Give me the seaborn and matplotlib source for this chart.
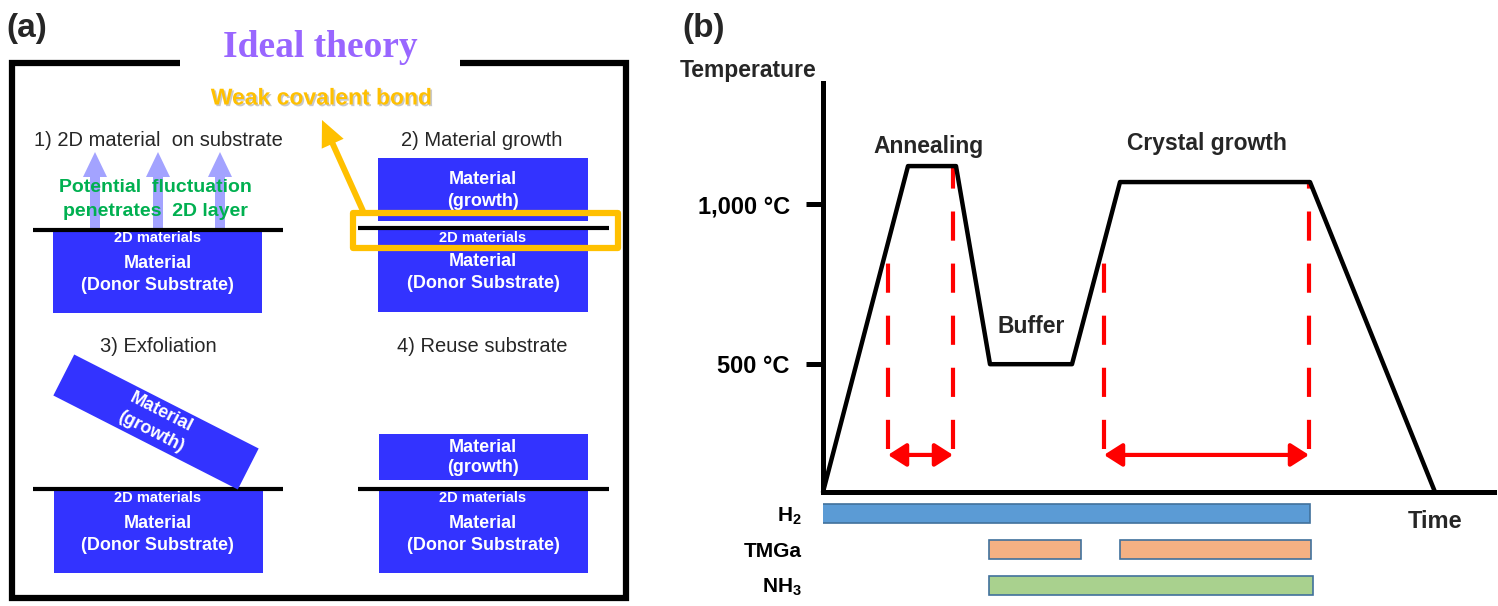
import matplotlib
matplotlib.use("Agg")
import matplotlib.pyplot as plt
import matplotlib.patches as mpatches
import matplotlib.patheffects as pe
import numpy as np
import seaborn as sns

# ---------------- panel (b) data ----------------
# temperature programme (time in arbitrary units, temperature in degC)
phase_time = [0, 8.5, 13.3, 16.7, 24.9, 29.7, 48.7, 61.2]
phase_temp = [100, 1120, 1120, 500, 500, 1070, 1070, 100]
temp_ticks = [500, 1000]
temp_tick_labels = ["500 °C", "1,000 °C"]

# red dashed windows (annealing / crystal growth)
window_time = [6.5, 13.0, 28.1, 48.6]
window_top = [875, 1119, 881, 1072]
window_bottom = 234
span_start = [6.5, 28.1]
span_end = [13.0, 48.6]
span_temp = 216

# phase labels
phase_labels = ["Annealing", "Buffer", "Crystal growth"]
phase_label_time = [10.6, 20.8, 38.4]
phase_label_temp = [1120, 500, 1070]

# gas flow timeline
gas_labels = [r"$\mathbf{H_2}$", "TMGa", r"$\mathbf{NH_3}$"]
gas_row = [0, 1, 1, 2]
gas_start = [-0.5, 16.6, 29.7, 16.6]
gas_end = [48.7, 25.8, 48.8, 49.0]
gas_color = ["#5B9BD5", "#F4B183", "#F4B183", "#A9D18E"]

BLUE = "#3333FF"
YELLOW = "#FFC000"

sns.set_theme(style="white")
plt.rcParams["font.family"] = ["Liberation Sans", "DejaVu Sans"]
plt.rcParams["mathtext.fontset"] = "custom"
plt.rcParams["mathtext.bf"] = "Liberation Sans:bold"
plt.rcParams["mathtext.rm"] = "Liberation Sans"

W, H = 1498, 606
fig = plt.figure(figsize=(W / 100, H / 100), dpi=100)
fig.patch.set_facecolor("white")

# overlay axes in pixel coordinates for the schematic (a) and free labels
ax0 = fig.add_axes([0, 0, 1, 1])
ax0.set_xlim(0, W)
ax0.set_ylim(H, 0)
ax0.axis("off")
ax0.patch.set_alpha(0)

ax0.text(6, 29, "(a)", fontsize=24, fontweight="bold", ha="left", va="center")
ax0.text(682, 29, "(b)", fontsize=24, fontweight="bold", ha="left", va="center")

# frame with a gap for the title
ax0.plot([180, 12, 12, 626, 626, 460], [63, 63, 598, 598, 63, 63],
         color="black", lw=4.5, solid_joinstyle="miter", solid_capstyle="butt")
ax0.text(320, 57, "Ideal theory", family=["Liberation Serif"], fontsize=27,
         fontweight="bold", color="#9966FF", ha="center", va="baseline")
ax0.text(321, 98, "Weak covalent bond", fontsize=16.5, fontweight="bold",
         color=YELLOW, ha="center", va="center",
         path_effects=[pe.SimplePatchShadow(offset=(1.2, -1.2), shadow_rgbFace="#888888", alpha=0.45),
                       pe.Normal()])


def box(x0, y0, x1, y1, z=2):
    ax0.add_patch(mpatches.Rectangle((x0, y0), x1 - x0, y1 - y0, fc=BLUE, ec="none", zorder=z))


def wtext(x, y, s, size=13):
    ax0.text(x, y, s, color="white", fontsize=size, fontweight="bold",
             ha="center", va="center", zorder=6)


def layer(x0, x1, y):
    ax0.plot([x0, x1], [y, y], color="black", lw=3, solid_capstyle="butt", zorder=4)


def substrate(cx, y_line, y_bot, x0, x1):
    box(x0, y_line, x1, y_bot)
    wtext(cx, y_line + 8.5, "2D materials", 10.5)
    wtext(cx, y_line + 34, "Material")
    wtext(cx, y_line + 56, "(Donor Substrate)")


cl, cr = 157.5, 483

# 1) 2D material on substrate
ax0.text(158, 140, "1) 2D material  on substrate", fontsize=14.5, ha="center", va="center")
substrate(cl, 230, 313, 53, 262)
layer(33, 283, 230)
for xa in [95, 158, 220]:
    ax0.add_patch(mpatches.FancyArrow(xa, 229, 0, -77, width=10, head_width=24, head_length=25,
                                      length_includes_head=True, color="#A3A3FF", lw=0, zorder=3))
ax0.text(155, 187, "Potential  fluctuation", fontsize=14, fontweight="bold", color="#00B050",
         ha="center", va="center", zorder=5)
ax0.text(155, 212, "penetrates  2D layer", fontsize=14, fontweight="bold", color="#00B050",
         ha="center", va="center", zorder=5)

# 2) Material growth
ax0.text(482, 140, "2) Material growth", fontsize=14.5, ha="center", va="center")
box(378, 158, 588, 221)
wtext(cr, 180, "Material")
wtext(cr, 201, "(growth)")
box(378, 229, 588, 312)
wtext(cr, 237.5, "2D materials", 10.5)
wtext(cr, 262, "Material")
wtext(cr, 284, "(Donor Substrate)")
layer(358, 609, 228)
ax0.add_patch(mpatches.Rectangle((353, 213), 265, 35, fill=False, ec=YELLOW, lw=4.5,
                                 joinstyle="round", zorder=7))
ax0.add_patch(mpatches.FancyArrow(363, 211, -41, -91, width=6, head_width=24, head_length=26,
                                  length_includes_head=True, color=YELLOW, lw=0, zorder=7))

# 3) Exfoliation
ax0.text(158, 347, "3) Exfoliation", fontsize=14.5, ha="center", va="center")
substrate(cl, 489, 573, 54, 263)
layer(33, 283, 489)
ang = np.deg2rad(27)
u = np.array([np.cos(ang), np.sin(ang)])
v = np.array([-np.sin(ang), np.cos(ang)])
c = np.array([156, 422])
corners = [c - 103.5 * u - 23 * v, c + 103.5 * u - 23 * v, c + 103.5 * u + 23 * v, c - 103.5 * u + 23 * v]
ax0.add_patch(mpatches.Polygon(corners, closed=True, fc=BLUE, ec="none", zorder=5))
for off, s in [(-10.5, "Material"), (11, "(growth)")]:
    p = c + off * v
    ax0.text(p[0], p[1], s, color="white", fontsize=13, fontweight="bold", rotation=-27,
             rotation_mode="anchor", ha="center", va="center", zorder=6)

# 4) Reuse substrate
ax0.text(482, 347, "4) Reuse substrate", fontsize=14.5, ha="center", va="center")
box(379, 434, 588, 480)
wtext(cr, 448, "Material")
wtext(cr, 468, "(growth)")
substrate(cr, 489, 573, 379, 588)
layer(358, 609, 489)

# ---------------- panel (b) ----------------
ax_b = fig.add_axes([823 / W, 1 - 492 / H, (1494 - 823) / W, (492 - 83) / H])
ax_b.patch.set_alpha(0)
ax_b.set_xlim(0, 67.1)
ax_b.set_ylim(100, 1380)

ax_b.vlines(window_time, window_bottom, window_top, colors="red", lw=3,
            linestyles=(0, (7, 5.5)), zorder=2)
for a, b in zip(span_start, span_end):
    ax_b.annotate("", xy=(b, span_temp), xytext=(a, span_temp),
                  arrowprops=dict(arrowstyle="<|-|>,head_length=0.55,head_width=0.35",
                                  color="red", lw=3, shrinkA=0, shrinkB=0, mutation_scale=20))

sns.lineplot(x=phase_time, y=phase_temp, sort=False, estimator=None, color="black",
             linewidth=3.2, ax=ax_b, clip_on=False, zorder=3)

offsets = [20, 38, 39]
for s, t, T, o in zip(phase_labels, phase_label_time, phase_label_temp, offsets):
    ax_b.annotate(s, xy=(t, T), xytext=(0, o * 0.72), textcoords="offset points",
                  fontsize=16.5, fontweight="bold", ha="center", va="center")

sns.despine(ax=ax_b)
for side in ["left", "bottom"]:
    ax_b.spines[side].set_linewidth(3.6)
    ax_b.spines[side].set_color("black")
ax_b.set_xticks([])
ax_b.set_yticks(temp_ticks, temp_tick_labels, fontsize=17, fontweight="bold")
ax_b.tick_params(axis="y", left=True, length=12, width=3.6, pad=12, colors="black")
ax_b.set_xlabel("")
ax_b.set_ylabel("")

ax0.text(680, 70, "Temperature", fontsize=16.5, fontweight="bold", ha="left", va="center")
ax0.text(1435, 522, "Time", fontsize=17, fontweight="bold", ha="center", va="center")

# gas flow bars
ax_g = fig.add_axes([823 / W, 1 - 603 / H, (1494 - 823) / W, (603 - 496) / H], sharex=ax_b)
ax_g.patch.set_alpha(0)
ax_g.barh(gas_row, np.array(gas_end) - np.array(gas_start), left=gas_start, height=0.53,
          color=gas_color, edgecolor="#41719C", linewidth=1.2)
ax_g.set_ylim(2.5, -0.5)
ax_g.set_yticks([0, 1, 2], gas_labels, fontsize=15, fontweight="bold")
ax_g.tick_params(axis="y", left=False, pad=9, colors="black")
ax_g.tick_params(axis="x", bottom=False, labelbottom=False)
for s in ax_g.spines.values():
    s.set_visible(False)

fig.savefig("out.png", dpi=100, facecolor="white")
